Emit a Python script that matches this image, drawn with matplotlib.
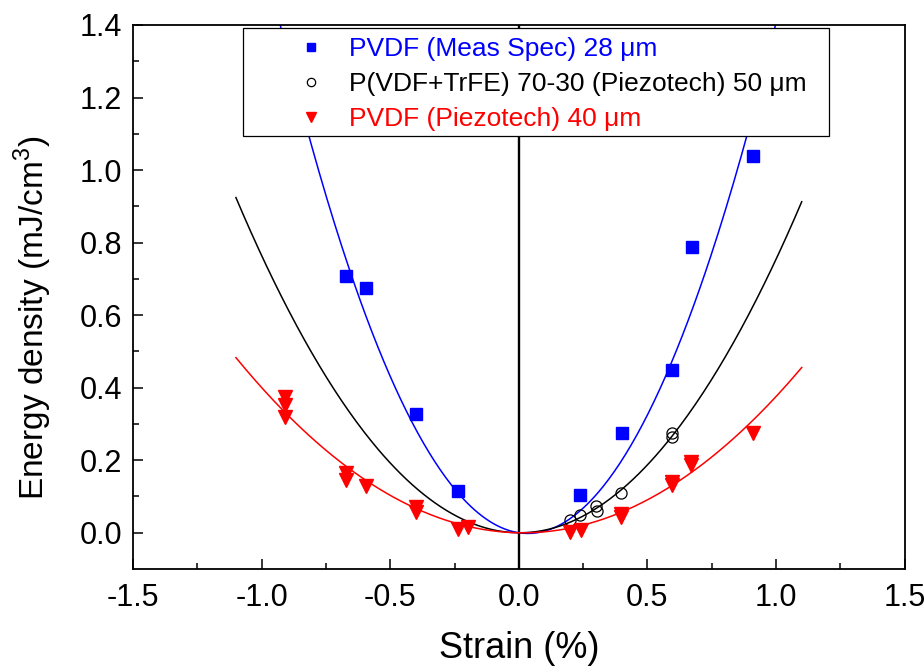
import matplotlib.pyplot as plt
from matplotlib.patches import Rectangle
import numpy as np

plt.rcParams['font.family'] = ['Liberation Sans', 'DejaVu Sans']
plt.rcParams['mathtext.fontset'] = 'custom'
plt.rcParams['mathtext.rm'] = 'Liberation Sans'
plt.rcParams['axes.unicode_minus'] = False

# PVDF (Meas Spec) 28 um
blue_x = [-0.672, -0.596, -0.398, -0.238, 0.238, 0.400, 0.597, 0.674, 0.911]
blue_y = [0.709, 0.676, 0.328, 0.115, 0.104, 0.274, 0.450, 0.788, 1.040]

# P(VDF+TrFE) 70-30 (Piezotech) 50 um
black_x = [0.198, 0.237, 0.302, 0.304, 0.399, 0.597, 0.597]
black_y = [0.034, 0.048, 0.073, 0.060, 0.110, 0.274, 0.264]

# PVDF (Piezotech) 40 um
red_x = [-0.909, -0.909, -0.909, -0.672, -0.672, -0.596, -0.398, -0.398,
         -0.238, -0.197, 0.198, 0.240, 0.399, 0.399, 0.597, 0.597,
         0.671, 0.671, 0.911]
red_y = [0.375, 0.352, 0.320, 0.165, 0.145, 0.128, 0.071, 0.057,
         0.009, 0.016, 0.002, 0.007, 0.044, 0.052, 0.131, 0.140,
         0.186, 0.195, 0.274]

labels = ["PVDF (Meas Spec) 28 \u03bcm",
          "P(VDF+TrFE) 70-30 (Piezotech) 50 \u03bcm",
          "PVDF (Piezotech) 40 \u03bcm"]

fit_range = (-1.1, 1.1)


def fit_through_origin(x, y):
    # y = a*x^2 + b*x, least squares
    x = np.asarray(x)
    A = np.column_stack([x ** 2, x])
    coef, *_ = np.linalg.lstsq(A, np.asarray(y), rcond=None)
    return coef


def main():
    fig = plt.figure(figsize=(9.24, 6.7), dpi=100)
    ax = fig.add_axes([0.144, 0.1507, 0.835, 0.812])

    xs = np.linspace(fit_range[0], fit_range[1], 300)

    for x, y, c in [(blue_x, blue_y, "#0000ff"), (black_x, black_y, "black"),
                    (red_x, red_y, "#ff0000")]:
        a, b = fit_through_origin(x, y)
        ax.plot(xs, a * xs ** 2 + b * xs, color=c, lw=1.1, zorder=2)

    ax.axvline(0, color="black", lw=1.7, zorder=1)

    h1, = ax.plot(blue_x, blue_y, "s", color="#0000ff", ms=8.5, mec="#0000ff",
                  ls="none", zorder=3)
    h2, = ax.plot(black_x, black_y, "o", mfc="none", mec="black", ms=8,
                  mew=0.9, ls="none", zorder=3)
    h3, = ax.plot(red_x, red_y, "v", color="#ff0000", ms=10, ls="none",
                  zorder=3)

    ax.set_xlim(-1.5, 1.5)
    ax.set_ylim(-0.1, 1.4)
    ax.set_xticks(np.arange(-1.5, 1.51, 0.5))
    ax.set_xticks(np.arange(-1.25, 1.5, 0.5), minor=True)
    ax.set_yticks(np.arange(0, 1.41, 0.2))
    ax.set_yticks(np.arange(0.1, 1.4, 0.2), minor=True)
    ax.xaxis.set_major_formatter(plt.FormatStrFormatter("%.1f"))
    ax.yaxis.set_major_formatter(plt.FormatStrFormatter("%.1f"))

    ax.tick_params(which="both", direction="in", width=1.1, labelsize=22,
                   top=False, right=False)
    ax.tick_params(which="major", length=7)
    ax.tick_params(which="minor", length=4)
    ax.tick_params(axis="x", pad=10)
    ax.tick_params(axis="y", pad=8)
    for s in ax.spines.values():
        s.set_linewidth(1.3)

    ax.set_xlabel("Strain (%)", fontsize=26, labelpad=13)
    ax.set_ylabel("Energy density (mJ/cm$^{3}$)", fontsize=24, labelpad=18)
    ax.yaxis.label.set_y(0.463)

    # legend frame drawn separately, entries sit inside it
    ax.add_patch(Rectangle((0.1425, 0.796), 0.759, 0.1985,
                           transform=ax.transAxes, fill=True, fc="white",
                           ec="black", lw=0.9, zorder=4))
    leg = ax.legend([h1, h2, h3], labels, loc="upper left",
                    bbox_to_anchor=(0.2137, 0.9780), borderaxespad=0,
                    fontsize=19, frameon=False, handlelength=1.0,
                    handletextpad=0.94, borderpad=0, labelspacing=0.42,
                    markerscale=0.75)
    leg.set_zorder(5)
    for t, c in zip(leg.get_texts(), ["#0000ff", "black", "#ff0000"]):
        t.set_color(c)

    fig.savefig("out.png", dpi=100)


if __name__ == "__main__":
    main()
